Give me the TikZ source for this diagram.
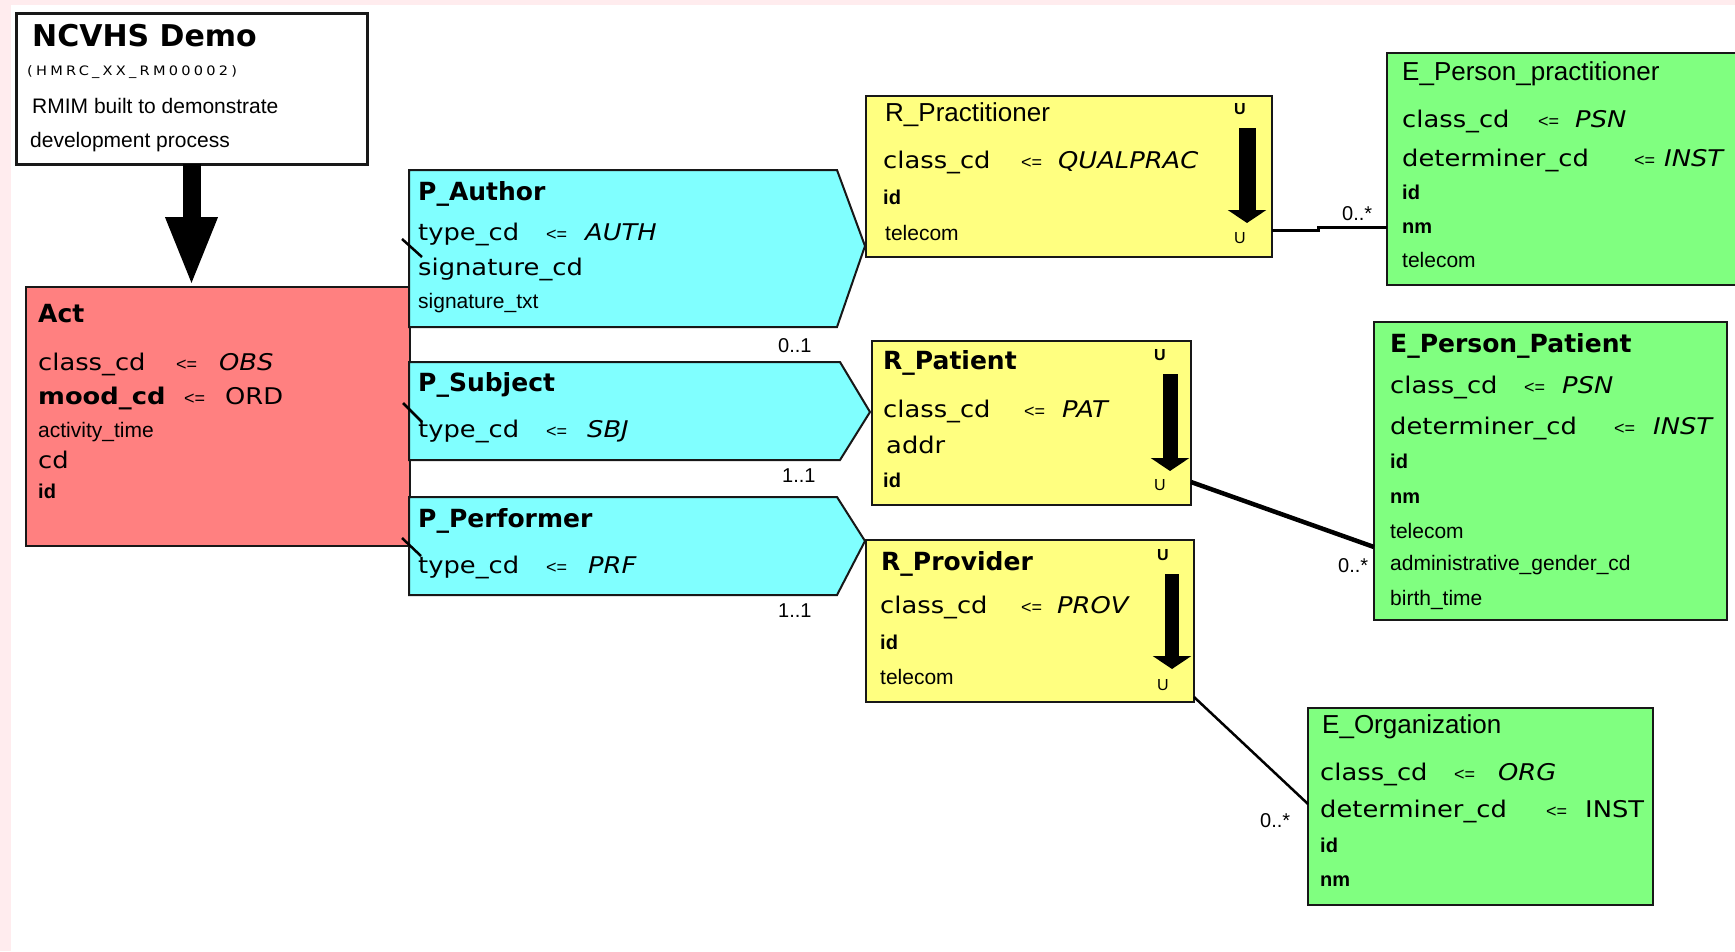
\documentclass[tikz,border=0pt]{standalone}
\usepackage{fontspec}
\setmainfont{Liberation Sans}
\newfontfamily\wfont[FakeStretch=1.12]{DejaVu Sans}
\newfontfamily\hfont{DejaVu Sans}
\usetikzlibrary{arrows.meta,calc}
\newcommand\px[1]{\fontsize{#1pt}{#1pt}\selectfont}

\definecolor{actred}{RGB}{255,128,128}
\definecolor{partcyan}{RGB}{128,255,255}
\definecolor{roleyel}{RGB}{255,255,128}
\definecolor{entgreen}{RGB}{128,255,128}
\definecolor{edgepink}{RGB}{255,236,238}
\definecolor{frame}{RGB}{24,24,24}

\tikzset{
  box/.style={draw=frame, line width=2.4pt, inner sep=0, outer sep=0, anchor=north west},
  pshape/.style={draw=frame, line width=2pt, fill=partcyan, line join=miter},
  nar/.style={inner sep=0, anchor=base west, font=\px{21}},
  narb/.style={inner sep=0, anchor=base west, font=\bfseries\px{20}},
  wid/.style={inner sep=0, anchor=base west, font=\wfont\px{23}},
  widb/.style={inner sep=0, anchor=base west, font=\wfont\bfseries\px{23}},
  val/.style={inner sep=0, anchor=base west, font=\wfont\itshape\px{23}},
  asg/.style={inner sep=0, anchor=base west, font=\px{18}},
  hd/.style={inner sep=0, anchor=base west, font=\hfont\bfseries\px{25}},
  ttl/.style={inner sep=0, anchor=base west, font=\px{26}},
  mult/.style={inner sep=0, anchor=base west, font=\px{20}},
  umark/.style={inner sep=0, anchor=base, font=\bfseries\px{16}},
  lmark/.style={inner sep=0, anchor=base, font=\px{16}},
  conn/.style={draw=black, line cap=butt},
  stub/.style={draw=black, line width=2.5pt},
  classarrow/.style={draw=black, line width=#1, line cap=butt,
    -{Triangle[length=13pt,width=38pt]}},
}

\begin{document}
\begin{tikzpicture}[x=1pt,y=-1pt]
\useasboundingbox (0,0) rectangle (1735,951);
\fill[white] (0,0) rectangle (1735,951);
\fill[edgepink] (0,0) rectangle (11,951);
\fill[edgepink] (0,0) rectangle (1735,5);

% ---------- header note ----------
\node[box, fill=white, line width=3pt, minimum width=351, minimum height=151] (demo) at (16,13) {};
\node[inner sep=0, anchor=base west, font=\hfont\bfseries\px{30}] (demo-t) at (32,46) {NCVHS Demo};
\node[inner sep=0, anchor=base west, font=\wfont\px{13}\addfontfeature{LetterSpace=25}] (demo-id) at (27,75) {(HMRC\_XX\_RM00002)};
\node[nar] (demo-d1) at (32,113) {RMIM built to demonstrate};
\node[nar] (demo-d2) at (30,147) {development process};

% ---------- Act ----------
\node[box, fill=actred, minimum width=384, minimum height=259] (act) at (26,287) {};
\node[hd] (act-t) at (38,322) {Act};
\node[wid] (act-a1) at (38,370) {class\_cd};
\node[asg] (act-a1o) at (176,370) {<=};
\node[val] (act-a1v) at (219,370) {OBS};
\node[widb] (act-a2) at (38,404) {mood\_cd};
\node[asg] (act-a2o) at (184,404) {<=};
\node[wid] (act-a2v) at (225,404) {ORD};
\node[nar] (act-a3) at (38,437) {activity\_time};
\node[wid] (act-a4) at (38,468) {cd};
\node[narb] (act-a5) at (38,498) {id};

\draw[line width=18pt, line cap=butt, -{Triangle[length=70pt,width=47pt]}]
  (demo.south) -- (demo.south |- act.north);

% ---------- participations ----------
\coordinate (pa) at (409,170);
\coordinate (ps) at (409,362);
\coordinate (pp) at (409,497);
\draw[pshape] (pa) -- ++(428,0) -- ++(28,76) -- ++(-28,81) -- ++(-428,0) -- cycle;
\draw[pshape] (ps) -- ++(431,0) -- ++(30,50) -- ++(-30,48) -- ++(-431,0) -- cycle;
\draw[pshape] (pp) -- ++(428,0) -- ++(28,44) -- ++(-28,54) -- ++(-428,0) -- cycle;

\node[hd] (pa-t) at (418,200) {P\_Author};
\node[wid] (pa-a1) at (418,240) {type\_cd};
\node[asg] (pa-a1o) at (546,240) {<=};
\node[val] (pa-a1v) at (585,240) {AUTH};
\node[wid] (pa-a2) at (418,275) {signature\_cd};
\node[nar] (pa-a3) at (418,308) {signature\_txt};

\node[hd] (ps-t) at (418,391) {P\_Subject};
\node[wid] (ps-a1) at (418,437) {type\_cd};
\node[asg] (ps-a1o) at (546,437) {<=};
\node[val] (ps-a1v) at (587,437) {SBJ};

\node[hd] (pp-t) at (418,527) {P\_Performer};
\node[wid] (pp-a1) at (418,573) {type\_cd};
\node[asg] (pp-a1o) at (546,573) {<=};
\node[val] (pp-a1v) at (588,573) {PRF};

\node[mult] (pa-m) at (778,352) {0..1};
\node[mult] (ps-m) at (782,482) {1..1};
\node[mult] (pp-m) at (778,617) {1..1};

% ---------- roles ----------
\node[box, fill=roleyel, minimum width=406, minimum height=161] (rprac) at (866,96) {};
\node[ttl] (rprac-t) at (885,121) {R\_Practitioner};
\node[wid] (rprac-a1) at (883,168) {class\_cd};
\node[asg] (rprac-a1o) at (1021,168) {<=};
\node[val] (rprac-a1v) at (1058,168) {QUALPRAC};
\node[narb] (rprac-a2) at (883,204) {id};
\node[nar] (rprac-a3) at (885,240) {telecom};
\node[umark] (rprac-u) at (1240,114) {U};
\node[lmark] (rprac-l) at (1240,243) {U};
\draw[classarrow=17pt] ([xshift=-25pt,yshift=-32pt]rprac.north east) -- ([xshift=-25pt,yshift=34pt]rprac.south east);

\node[box, fill=roleyel, minimum width=319, minimum height=164] (rpat) at (872,341) {};
\node[hd] (rpat-t) at (883,369) {R\_Patient};
\node[wid] (rpat-a1) at (883,417) {class\_cd};
\node[asg] (rpat-a1o) at (1024,417) {<=};
\node[val] (rpat-a1v) at (1062,417) {PAT};
\node[wid] (rpat-a2) at (886,453) {addr};
\node[narb] (rpat-a3) at (883,487) {id};
\node[umark] (rpat-u) at (1160,360) {U};
\node[lmark] (rpat-l) at (1160,490) {U};
\draw[classarrow=15pt] ([xshift=-21pt,yshift=-33pt]rpat.north east) -- ([xshift=-21pt,yshift=34pt]rpat.south east);

\node[box, fill=roleyel, minimum width=328, minimum height=162] (rprov) at (866,540) {};
\node[hd] (rprov-t) at (881,570) {R\_Provider};
\node[wid] (rprov-a1) at (880,613) {class\_cd};
\node[asg] (rprov-a1o) at (1021,613) {<=};
\node[val] (rprov-a1v) at (1057,613) {PROV};
\node[narb] (rprov-a2) at (880,649) {id};
\node[nar] (rprov-a3) at (880,684) {telecom};
\node[umark] (rprov-u) at (1163,560) {U};
\node[lmark] (rprov-l) at (1163,690) {U};
\draw[classarrow=14pt] ([xshift=-22pt,yshift=-34pt]rprov.north east) -- ([xshift=-22pt,yshift=33pt]rprov.south east);

% ---------- entities ----------
\node[box, fill=entgreen, minimum width=360, minimum height=232] (eprac) at (1387,53) {};
\node[ttl] (eprac-t) at (1402,80) {E\_Person\_practitioner};
\node[wid] (eprac-a1) at (1402,127) {class\_cd};
\node[asg] (eprac-a1o) at (1538,127) {<=};
\node[val] (eprac-a1v) at (1575,127) {PSN};
\node[wid] (eprac-a2) at (1402,166) {determiner\_cd};
\node[asg] (eprac-a2o) at (1634,166) {<=};
\node[val] (eprac-a2v) at (1664,166) {INST};
\node[narb] (eprac-a3) at (1402,199) {id};
\node[narb] (eprac-a4) at (1402,233) {nm};
\node[nar] (eprac-a5) at (1402,267) {telecom};

\node[box, fill=entgreen, minimum width=353, minimum height=298] (epat) at (1374,322) {};
\node[hd] (epat-t) at (1390,352) {E\_Person\_Patient};
\node[wid] (epat-a1) at (1390,393) {class\_cd};
\node[asg] (epat-a1o) at (1524,393) {<=};
\node[val] (epat-a1v) at (1562,393) {PSN};
\node[wid] (epat-a2) at (1390,434) {determiner\_cd};
\node[asg] (epat-a2o) at (1614,434) {<=};
\node[val] (epat-a2v) at (1653,434) {INST};
\node[narb] (epat-a3) at (1390,468) {id};
\node[narb] (epat-a4) at (1390,503) {nm};
\node[nar] (epat-a5) at (1390,538) {telecom};
\node[nar] (epat-a6) at (1390,570) {administrative\_gender\_cd};
\node[nar] (epat-a7) at (1390,605) {birth\_time};

\node[box, fill=entgreen, minimum width=345, minimum height=197] (eorg) at (1308,708) {};
\node[ttl] (eorg-t) at (1322,733) {E\_Organization};
\node[wid] (eorg-a1) at (1320,780) {class\_cd};
\node[asg] (eorg-a1o) at (1454,780) {<=};
\node[val] (eorg-a1v) at (1498,780) {ORG};
\node[wid] (eorg-a2) at (1320,817) {determiner\_cd};
\node[asg] (eorg-a2o) at (1546,817) {<=};
\node[wid] (eorg-a2v) at (1585,817) {INST};
\node[narb] (eorg-a3) at (1320,852) {id};
\node[narb] (eorg-a4) at (1320,886) {nm};

% ---------- associations ----------
\draw[conn, line width=3pt] ([yshift=27pt]rprac.south east) -- ++(46,0) -- ++(0,-3) -- ([yshift=-174pt]eprac.north west);
\draw[conn, line width=4.5pt] ([yshift=23pt]rpat.south east) -- ([yshift=-225pt]epat.north west);
\draw[conn, line width=2.5pt] ([yshift=5pt]rprov.south east) -- ([yshift=-96pt]eorg.north west);
\node[mult] (eprac-m) at (1342,220) {0..*};
\node[mult] (epat-m) at (1338,572) {0..*};
\node[mult] (eorg-m) at (1260,827) {0..*};

% stubs of the act relationships
\draw[stub] ($(pa)+(-7,69)$) -- ++(20,18);
\draw[stub] ($(ps)+(-6,41)$) -- ++(19,19);
\draw[stub] ($(pp)+(-7,41)$) -- ++(19,18);
\end{tikzpicture}
\end{document}
